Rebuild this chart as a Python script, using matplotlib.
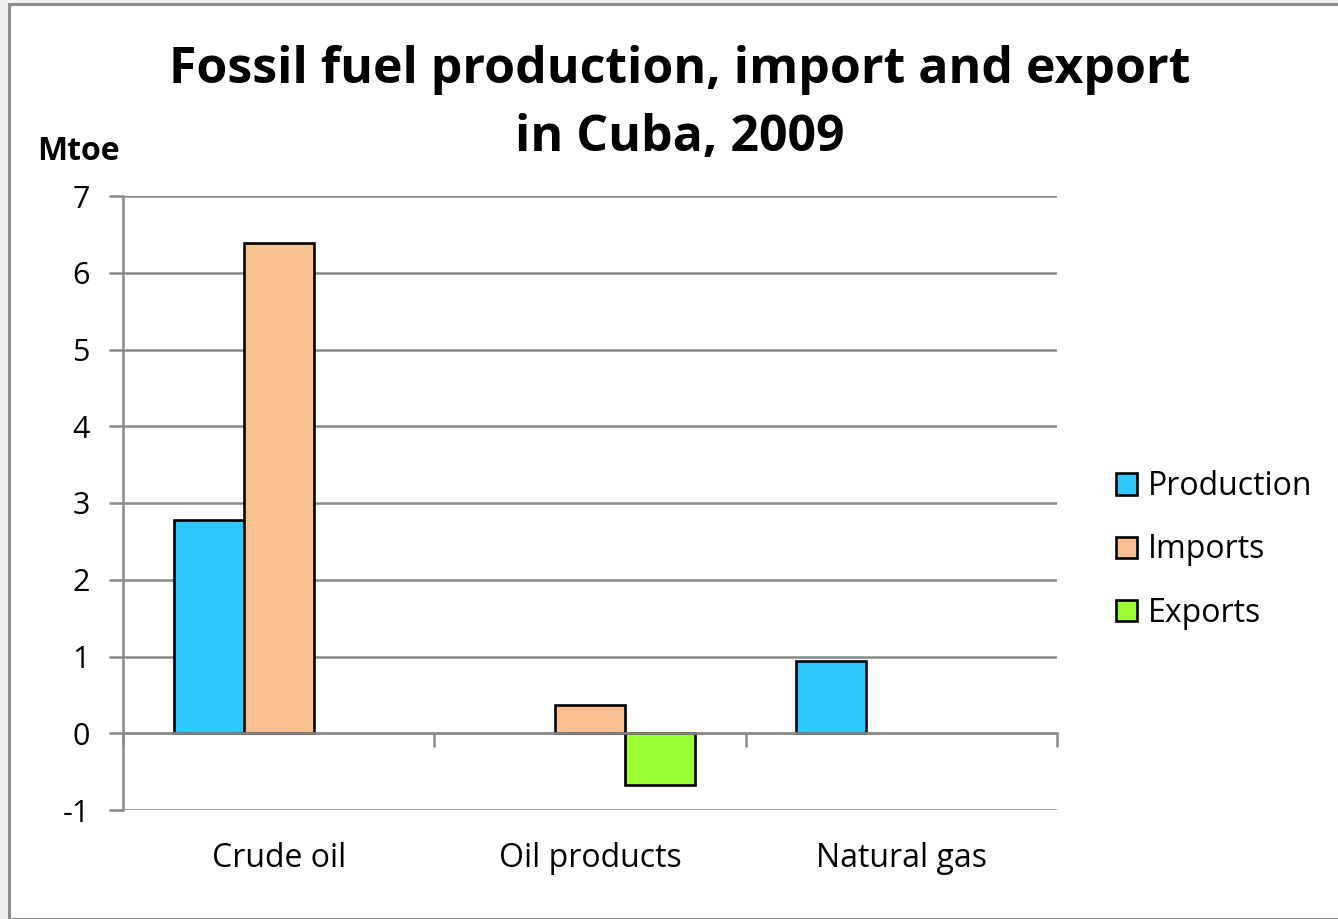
import matplotlib.pyplot as plt
from matplotlib.patches import Patch, Rectangle

plt.rcParams['font.family'] = ['Open Sans', 'DejaVu Sans']

categories = ["Crude oil", "Oil products", "Natural gas"]
production = [2.78, 0.0, 0.94]
imports = [6.39, 0.37, 0.0]
exports = [0.0, -0.67, 0.0]
series_names = ["Production", "Imports", "Exports"]
colors = ["#2ec8fd", "#f9c18f", "#99ff33"]
yticks = [-1, 0, 1, 2, 3, 4, 5, 6, 7]

grid_col = "#8a8a8a"
fs = 22

fig = plt.figure(figsize=(13.38, 9.19), dpi=100)
fig.patch.set_facecolor("#efefef")
# white chart area with a grey frame
fig.patches.append(Rectangle((9 / 1338, 0), 1.0, 1 - 4 / 919, transform=fig.transFigure,
                             facecolor="white", edgecolor="#8c8c8c", linewidth=2.2, zorder=-5))

ax = fig.add_axes([123 / 1338, 1 - 810 / 919, (1057 - 123) / 1338, (810 - 196) / 919])
ax.set_facecolor("none")

width = 0.225
x = list(range(len(categories)))
for i, (vals, name, col) in enumerate(zip([production, imports, exports], series_names, colors)):
    xs = [xi + (i - 1) * width for xi in x]
    keep = [(a, v) for a, v in zip(xs, vals) if v != 0]
    ax.bar([a for a, _ in keep], [v for _, v in keep], width=width, color=col,
           edgecolor="black", linewidth=1.9, zorder=3, label=name)

ax.set_xlim(-0.5, 2.5)
ax.set_ylim(-1, 7)
ax.set_yticks(yticks)
ax.set_yticklabels([str(t) for t in yticks], fontsize=fs)
ax.yaxis.grid(True, color=grid_col, linewidth=1.8)
ax.set_axisbelow(True)
ax.tick_params(axis="y", length=10, width=1.8, color=grid_col, pad=14)

for s in ["top", "right"]:
    ax.spines[s].set_visible(False)
ax.spines["left"].set_color(grid_col)
ax.spines["left"].set_linewidth(1.8)
ax.spines["bottom"].set_position(("data", 0))
ax.spines["bottom"].set_color(grid_col)
ax.spines["bottom"].set_linewidth(1.8)
ax.spines["bottom"].set_zorder(4)

# category boundary ticks on the zero line
ax.set_xticks([-0.5, 0.5, 1.5, 2.5])
ax.set_xticklabels([])
ax.tick_params(axis="x", length=10, width=1.8, color=grid_col, direction="out")

# category names under the plot
sec = ax.secondary_xaxis("bottom")
sec.set_xticks(x)
sec.set_xticklabels(categories, fontsize=23)
sec.tick_params(length=0, pad=23)
sec.spines["bottom"].set_visible(False)

fig.text(0.508, 1 - 104 / 919, "Fossil fuel production, import and export\nin Cuba, 2009",
         ha="center", va="center", fontsize=36, fontweight="bold", linespacing=1.45)
fig.text(37 / 1338, 1 - 151 / 919, "Mtoe", ha="left", va="center",
         fontsize=23, fontweight="bold")

handles = [Patch(facecolor=c, edgecolor="black", linewidth=1.9) for c in colors]
fig.legend(handles, series_names, loc="center left", bbox_to_anchor=(1087 / 1338, 1 - 550 / 919),
           frameon=False, fontsize=23, handlelength=0.65, handleheight=0.65,
           handletextpad=0.35, labelspacing=0.95)

fig.savefig("out.png", dpi=100, facecolor=fig.get_facecolor())
